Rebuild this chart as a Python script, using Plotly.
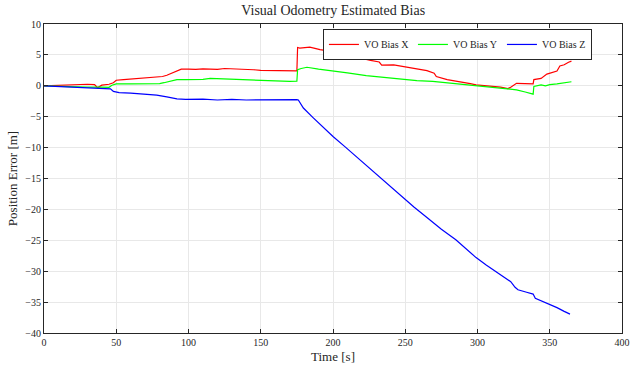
import plotly.graph_objects as go

# ---- data ----
t_x = [0, 10, 20, 30, 35, 37, 40, 45, 48, 50, 55, 60, 66, 72, 77, 82, 85, 88, 92, 95,
       100, 105, 110, 115, 120, 125, 130, 135, 140, 145, 150, 155, 160, 165, 170, 175,
       175.5, 177, 184, 191, 198, 205, 212, 219, 226, 232, 233.7, 242, 251, 258, 265,
       270, 271.5, 279, 288, 295, 299, 305, 310, 316, 321, 322.5, 327, 333, 338.5, 339,
       344, 348, 352, 355, 357, 360, 363, 365]
bias_x = [0.0, 0.1, 0.15, 0.25, 0.2, -0.3, 0.1, 0.25, 0.5, 0.9, 1.0, 1.1, 1.15, 1.3, 1.4,
          1.5, 1.7, 2.0, 2.5, 2.7, 2.7, 2.65, 2.75, 2.7, 2.65, 2.8, 2.75, 2.8, 2.75, 2.6,
          2.5, 2.5, 2.4, 2.45, 2.4, 2.4, 6.2, 6.1, 6.25, 5.85, 5.6, 5.2, 4.9, 4.5, 4.1,
          3.85, 3.35, 3.4, 3.0, 2.75, 2.45, 2.05, 1.5, 1.0, 0.7, 0.35, 0.15, 0.0, -0.1,
          -0.2, -0.45, -0.3, 0.4, 0.4, 0.3, 1.0, 1.2, 1.9, 2.2, 2.4, 3.2, 3.4, 3.8, 4.0]

t_y = [0, 10, 20, 30, 40, 45, 47, 50, 60, 70, 80, 83, 88, 92, 98, 105, 110, 115, 120, 125,
       130, 140, 150, 160, 170, 175, 175.5, 178, 182, 190, 200, 210, 223, 235, 246, 258,
       269, 280, 288, 297, 310, 320, 327, 333, 338.5, 339, 344, 347, 350, 355, 363, 365]
bias_y = [0.0, -0.1, -0.15, -0.2, -0.2, -0.25, 0.1, 0.3, 0.3, 0.3, 0.35, 0.5, 0.8, 1.0,
          1.0, 1.0, 1.05, 1.2, 1.15, 1.2, 1.1, 1.0, 0.85, 0.8, 0.7, 0.75, 2.6, 2.8, 3.0,
          2.7, 2.45, 2.1, 1.65, 1.35, 1.05, 0.85, 0.7, 0.45, 0.3, 0.05, -0.15, -0.4,
          -0.65, -1.0, -1.35, -0.1, 0.15, 0.0, 0.2, 0.3, 0.55, 0.65]

t_z = [0, 10, 20, 30, 40, 46, 48, 52, 60, 70, 78, 85, 92, 98, 110, 120, 130, 140, 150,
       160, 170, 175, 176, 179.5, 186, 193, 200, 208, 216, 224, 232, 240, 248, 256, 265,
       275, 285, 292, 299, 306, 313, 320, 323, 326, 328, 334, 338.5, 340, 342, 348, 355,
       360, 364]
bias_z = [0.0, -0.1, -0.3, -0.4, -0.45, -0.5, -0.9, -1.1, -1.2, -1.35, -1.5, -1.8, -2.1,
          -2.2, -2.15, -2.3, -2.2, -2.3, -2.25, -2.3, -2.2, -2.25, -2.3, -3.6, -5.1, -6.7,
          -8.2, -9.8, -11.45, -13.1, -14.7, -16.4, -18.1, -19.6, -21.3, -23.2, -24.9,
          -26.3, -27.8, -29.0, -30.1, -31.2, -31.7, -32.6, -33.0, -33.4, -33.7, -34.4,
          -34.6, -35.1, -35.9, -36.5, -36.95]

x_ticks = [0, 50, 100, 150, 200, 250, 300, 350, 400]
y_ticks = [10, 5, 0, -5, -10, -15, -20, -25, -30, -35, -40]

FONT = "Liberation Serif"
AX = "#262626"

fig = go.Figure()
fig.add_trace(go.Scatter(x=t_x, y=bias_x, mode="lines", name="VO Bias X",
                         line=dict(color="#ff0000", width=1.2)))
fig.add_trace(go.Scatter(x=t_y, y=bias_y, mode="lines", name="VO Bias Y",
                         line=dict(color="#00ff00", width=1.2)))
fig.add_trace(go.Scatter(x=t_z, y=bias_z, mode="lines", name="VO Bias Z",
                         line=dict(color="#0000ff", width=1.2)))

axis_common = dict(showline=True, linecolor=AX, linewidth=1, mirror="ticks",
                   ticks="inside", ticklen=4, tickcolor=AX, showgrid=True,
                   gridcolor="#e8e8e8", gridwidth=1, zeroline=False, automargin=False,
                   tickfont=dict(family=FONT, size=10, color=AX))

fig.update_xaxes(range=[0, 400], tickvals=x_ticks, title=dict(text="Time [s]",
                 font=dict(family=FONT, size=13, color=AX), standoff=4), **axis_common)
fig.update_yaxes(range=[-40, 10], tickvals=y_ticks, title=dict(text="Position Error [m]",
                 font=dict(family=FONT, size=13, color=AX), standoff=4), **axis_common)

fig.update_layout(
    width=631, height=369,
    margin=dict(l=44, r=9, t=24, b=36),
    paper_bgcolor="white", plot_bgcolor="white",
    title=dict(text="Visual Odometry Estimated Bias", x=0.528, xanchor="center",
               y=0.972, yanchor="middle",
               font=dict(family=FONT, size=14, color=AX)),
    legend=dict(orientation="h", x=0.948, xanchor="right", y=0.984, yanchor="top",
                bgcolor="white", bordercolor=AX, borderwidth=1,
                font=dict(family=FONT, size=10, color=AX),
                itemwidth=30, tracegroupgap=0, entrywidth=44),
    showlegend=True,
)

fig.write_html("out.html")
